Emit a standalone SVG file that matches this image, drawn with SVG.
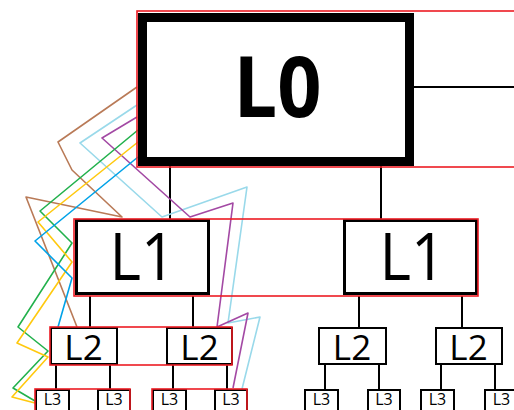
<svg xmlns="http://www.w3.org/2000/svg" width="514" height="410" viewBox="0 0 514 410">
  <style>
    .frame { fill: none; stroke: #ed1c24; stroke-width: 1.6; }
    .box { fill: #ffffff; stroke: #000000; }
    .b0 { stroke-width: 9; }
    .b1 { stroke-width: 3; }
    .b2 { stroke-width: 2; }
    .wire { fill: none; stroke: #000000; stroke-width: 2; }
    .trace { fill: none; stroke-width: 1.6; stroke-linejoin: round; }
    .lbl { font-family: "Open Sans", "Liberation Sans", sans-serif; fill: #000000; text-anchor: middle; }
    .t0 { font-size: 84px; font-weight: bold; }
    .t1 { font-size: 66px; }
    .t2 { font-size: 35px; }
    .t3 { font-size: 16px; }
  </style>

  <!-- connectors -->
  <g id="connectors">
    <line class="wire" x1="414" y1="87" x2="514" y2="87"/>
    <line class="wire" x1="170" y1="166" x2="170" y2="220"/>
    <line class="wire" x1="381" y1="166" x2="381" y2="220"/>
    <line class="wire" x1="90" y1="296" x2="90" y2="327"/>
    <line class="wire" x1="193" y1="296" x2="193" y2="327"/>
    <line class="wire" x1="359" y1="296" x2="359" y2="327"/>
    <line class="wire" x1="462" y1="296" x2="462" y2="327"/>
    <line class="wire" x1="56" y1="365" x2="56" y2="389"/>
    <line class="wire" x1="110" y1="365" x2="110" y2="389"/>
    <line class="wire" x1="173" y1="365" x2="173" y2="389"/>
    <line class="wire" x1="227" y1="365" x2="227" y2="389"/>
    <line class="wire" x1="325" y1="365" x2="325" y2="389"/>
    <line class="wire" x1="379" y1="365" x2="379" y2="389"/>
    <line class="wire" x1="441" y1="365" x2="441" y2="389"/>
    <line class="wire" x1="495" y1="365" x2="495" y2="389"/>
  </g>

  <!-- freehand coloured traces -->
  <g id="traces">
    <polyline class="trace" stroke="#b97a57" points="137,87 58,142 72,170 122,217 26,197 77,327"/>
    <polyline class="trace" stroke="#99d9ea" points="137,105 80,143 162,217 247,187 228,323 260,317 242,389"/>
    <polyline class="trace" stroke="#a349a4" points="137,117 102,138 190,217 233,203 217,327 248,313 233,388"/>
    <polyline class="trace" stroke="#22b14c" points="138,130 40,211 72,243 18,327 48,351 13,388 35,401"/>
    <polyline class="trace" stroke="#ffc90e" points="138,142 38,222 72,262 17,343 48,357 12,397 35,403"/>
    <polyline class="trace" stroke="#00a2e8" points="138,157 35,241 72,278 58,327"/>
  </g>

  <!-- level 0 -->
  <g id="node-l0">
    <rect class="box b0" x="142.5" y="17.5" width="267" height="144"/>
    <rect class="frame" x="137" y="11" width="380" height="156"/>
    <text class="lbl t0" x="277.5" y="117" textLength="88" lengthAdjust="spacingAndGlyphs">L0</text>
  </g>

  <!-- level 1 -->
  <g id="node-l1-a">
    <rect class="box b1" x="76.5" y="220.5" width="132" height="73"/>
    <text class="lbl t1" x="142.5" y="280" textLength="66" lengthAdjust="spacingAndGlyphs">L1</text>
  </g>
  <g id="node-l1-b">
    <rect class="box b1" x="344.5" y="220.5" width="132" height="73"/>
    <text class="lbl t1" x="412.5" y="280" textLength="66" lengthAdjust="spacingAndGlyphs">L1</text>
  </g>
  <g id="frame-l1">
    <rect class="frame" x="74" y="219" width="404" height="77"/>
  </g>

  <!-- level 2 -->
  <g id="node-l2-a">
    <rect class="box b2" x="51" y="328" width="66" height="36"/>
    <text class="lbl t2" x="83.5" y="360">L2</text>
  </g>
  <g id="node-l2-b">
    <rect class="box b2" x="167" y="328" width="65" height="36"/>
    <text class="lbl t2" x="199.5" y="360">L2</text>
  </g>
  <g id="frame-l2">
    <rect class="frame" x="50" y="327" width="182" height="38"/>
  </g>
  <g id="node-l2-c">
    <rect class="box b2" x="319" y="328" width="67" height="36"/>
    <text class="lbl t2" x="352" y="360">L2</text>
  </g>
  <g id="node-l2-d">
    <rect class="box b2" x="436" y="328" width="66" height="36"/>
    <text class="lbl t2" x="468.5" y="360">L2</text>
  </g>

  <!-- level 3 -->
  <g id="node-l3-a">
    <rect class="box b2" x="36" y="390" width="33" height="26"/>
    <text class="lbl t3" x="52.5" y="405">L3</text>
  </g>
  <g id="node-l3-b">
    <rect class="box b2" x="98" y="390" width="32" height="26"/>
    <text class="lbl t3" x="114" y="405">L3</text>
  </g>
  <g id="node-l3-c">
    <rect class="box b2" x="153" y="390" width="33" height="26"/>
    <text class="lbl t3" x="169.5" y="405">L3</text>
  </g>
  <g id="node-l3-d">
    <rect class="box b2" x="215" y="390" width="32" height="26"/>
    <text class="lbl t3" x="231" y="405">L3</text>
  </g>
  <g id="frame-l3">
    <rect class="frame" x="35" y="389" width="95" height="30"/>
    <rect class="frame" x="152" y="389" width="95" height="30"/>
  </g>
  <g id="node-l3-e">
    <rect class="box b2" x="305" y="390" width="33" height="26"/>
    <text class="lbl t3" x="321.5" y="405">L3</text>
  </g>
  <g id="node-l3-f">
    <rect class="box b2" x="368" y="390" width="32" height="26"/>
    <text class="lbl t3" x="384" y="405">L3</text>
  </g>
  <g id="node-l3-g">
    <rect class="box b2" x="421" y="390" width="33" height="26"/>
    <text class="lbl t3" x="437.5" y="405">L3</text>
  </g>
  <g id="node-l3-h">
    <rect class="box b2" x="485" y="390" width="33" height="26"/>
    <text class="lbl t3" x="501.5" y="405">L3</text>
  </g>
</svg>
